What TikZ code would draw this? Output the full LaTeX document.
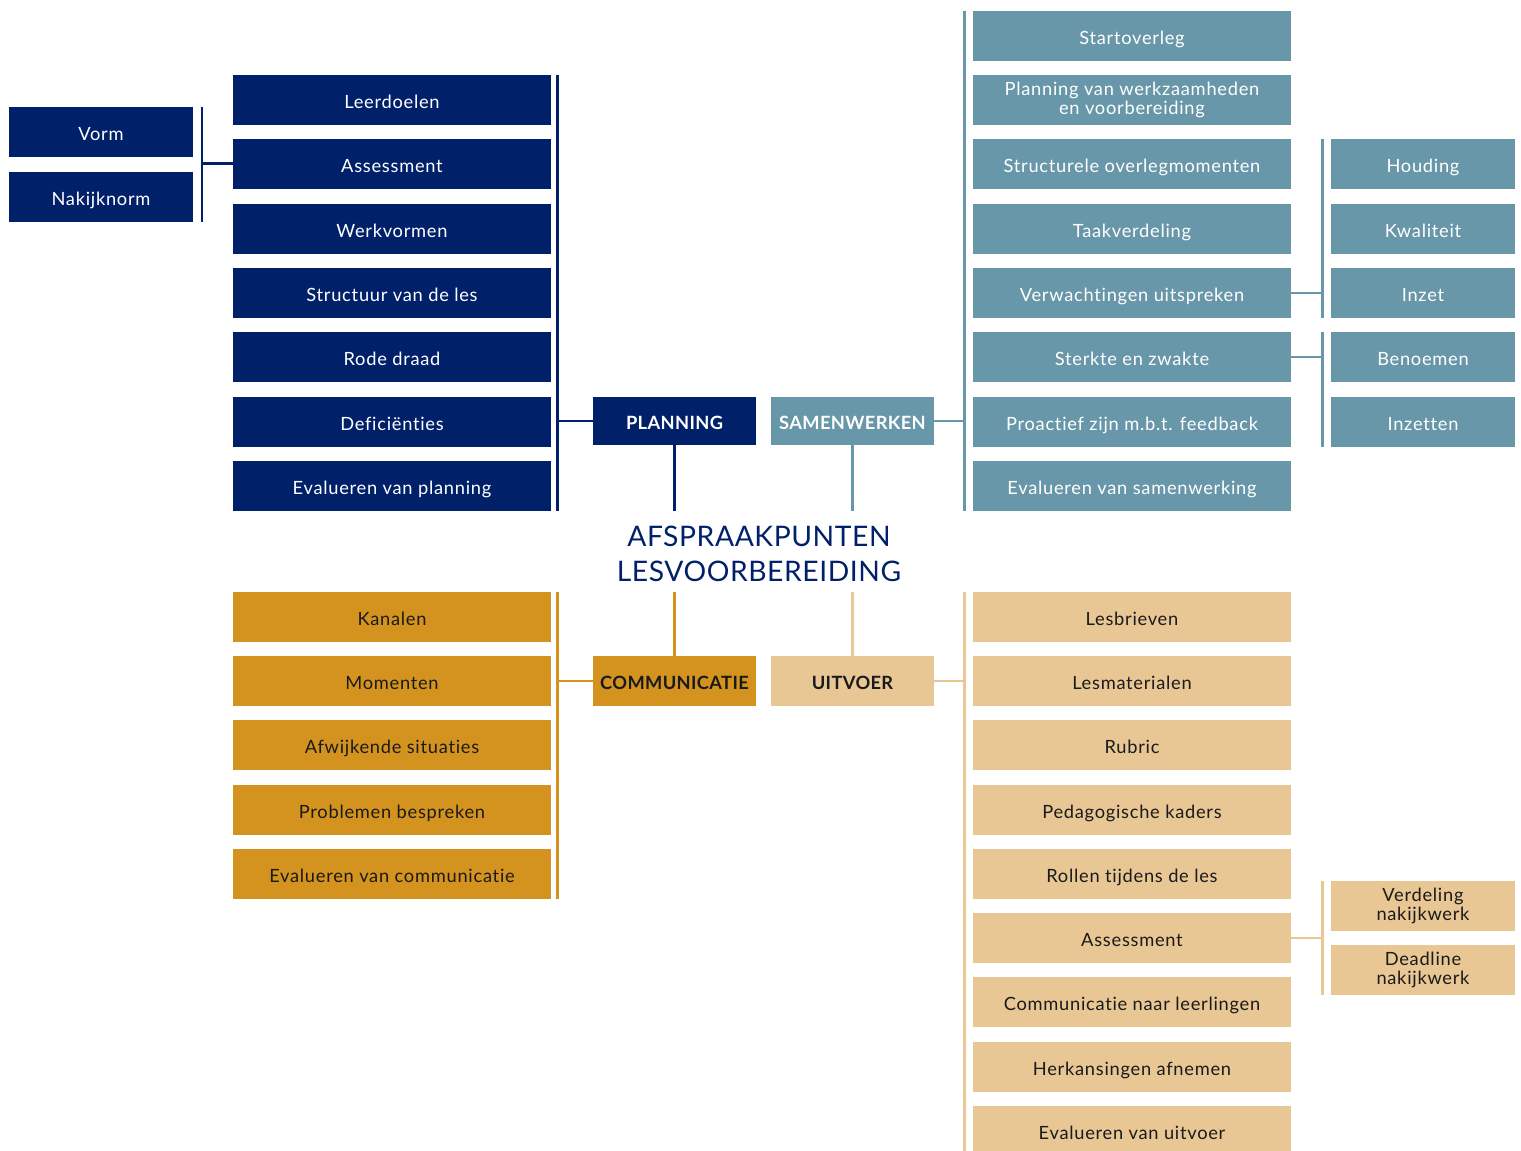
\documentclass[tikz,border=0pt]{standalone}
\usepackage{fontspec}
\setmainfont{Lato}[LetterSpace=4.0,Ligatures=NoCommon]
\usetikzlibrary{positioning}
\definecolor{plancol}{HTML}{002169}
\definecolor{samcol}{HTML}{6797A8}
\definecolor{comcol}{HTML}{D4931E}
\definecolor{uitcol}{HTML}{E8C795}
\definecolor{inkcol}{HTML}{1A1A1A}
\tikzset{
  box/.style={inner sep=0pt,minimum width=6.36cm,minimum height=1cm,align=center,
    text height=0.95em,text depth=0pt,font=\fontsize{10.4}{10.4}\selectfont},
  twoline/.style={text height={},text depth={}},
  subbox/.style={box,minimum width=3.68cm},
  head/.style={box,minimum width=3.26cm,font=\fontsize{10.4}{11}\selectfont\bfseries\addfontfeatures{LetterSpace=2.0}},
  navy/.style={fill=plancol,text=white},
  teal/.style={fill=samcol,text=white},
  gold/.style={fill=comcol,text=inkcol},
  tan/.style={fill=uitcol,text=inkcol},
  link/.style={line width=1.7pt}
}

\begin{document}
\begin{tikzpicture}[x=0.02cm,y=-0.02cm]
    \useasboundingbox (0,0) rectangle (1521,1151);

    % planning
    \node[box,navy] (leer) at (392,100) {Leerdoelen};
    \node[box,navy] (assp) at (392,164) {Assessment};
    \node[box,navy] (werk) at (392,229) {Werkvormen};
    \node[box,navy] (stru) at (392,293) {Structuur van de les};
    \node[box,navy] (rode) at (392,357) {Rode draad};
    \node[box,navy] (defi) at (392,422) {Deficiënties};
    \node[box,navy] (evap) at (392,486) {Evalueren van planning};
    \node[subbox,navy] (vorm) at (101,132) {Vorm};
    \node[subbox,navy] (naki) at (101,197) {Nakijknorm};
    \node[head,navy,minimum height=0.96cm] (plan) at (674.5,421) {PLANNING};

    \coordinate (ptop) at (557,75);
    \coordinate (pbot) at (557,511);
    \coordinate (vtop) at (202,107);
    \coordinate (vbot) at (202,222);
    \draw[link,plancol] (ptop) -- (pbot);
    \draw[link,plancol] (plan.west) -- (plan.west -| ptop);
    \draw[link,plancol] (vtop) -- (vbot);
    \draw[link,plancol] (assp.west) -- (assp.west -| vtop);
    \draw[link,plancol] (plan.south) -- (674.5,511);

    % samenwerken
    \node[box,teal] (start) at (1132,36) {Startoverleg};
    \node[box,teal,twoline] (plwerk) at (1132,100) {Planning van werkzaamheden\\en voorbereiding};
    \node[box,teal] (struc) at (1132,164) {Structurele overlegmomenten};
    \node[box,teal] (taak) at (1132,229) {Taakverdeling};
    \node[box,teal] (verw) at (1132,293) {Verwachtingen uitspreken};
    \node[box,teal] (sterk) at (1132,357) {Sterkte en zwakte};
    \node[box,teal] (proa) at (1132,422) {Proactief zijn m.b.t. feedback};
    \node[box,teal] (evas) at (1132,486) {Evalueren van samenwerking};
    \node[subbox,teal] (houd) at (1423,164) {Houding};
    \node[subbox,teal] (kwal) at (1423,229) {Kwaliteit};
    \node[subbox,teal] (inzet) at (1423,293) {Inzet};
    \node[subbox,teal] (benoe) at (1423,357) {Benoemen};
    \node[subbox,teal] (inzetten) at (1423,422) {Inzetten};
    \node[head,teal,minimum height=0.96cm] (sam) at (852.5,421) {SAMENWERKEN};

    \coordinate (stop) at (964,11);
    \coordinate (sbot) at (964,511);
    \coordinate (htop) at (1322,139);
    \coordinate (hbot) at (1322,318);
    \coordinate (btop) at (1322,332);
    \coordinate (bbot) at (1322,447);
    \draw[link,samcol] (stop) -- (sbot);
    \draw[link,samcol] (sam.east) -- (sam.east -| stop);
    \draw[link,samcol] (htop) -- (hbot);
    \draw[link,samcol] (verw.east) -- (verw.east -| htop);
    \draw[link,samcol] (btop) -- (bbot);
    \draw[link,samcol] (sterk.east) -- (sterk.east -| btop);
    \draw[link,samcol] (sam.south) -- (852.5,511);

    % title
    \node[text=plancol,align=center,font=\fontsize{16.1}{19.9}\selectfont\addfontfeatures{LetterSpace=2.0}] (title) at (759,554) {AFSPRAAKPUNTEN\\LESVOORBEREIDING};

    % communicatie
    \node[box,gold] (kana) at (392,617) {Kanalen};
    \node[box,gold] (mome) at (392,681) {Momenten};
    \node[box,gold] (afwi) at (392,745) {Afwijkende situaties};
    \node[box,gold] (prob) at (392,810) {Problemen bespreken};
    \node[box,gold] (evac) at (392,874) {Evalueren van communicatie};
    \node[head,gold] (com) at (674.5,681) {COMMUNICATIE};

    \coordinate (ctop) at (557,592);
    \coordinate (cbot) at (557,899);
    \draw[link,comcol] (ctop) -- (cbot);
    \draw[link,comcol] (com.west) -- (com.west -| ctop);
    \draw[link,comcol] (674.5,592) -- (com.north);

    % uitvoer
    \node[box,tan] (lesb) at (1132,617) {Lesbrieven};
    \node[box,tan] (lesm) at (1132,681) {Lesmaterialen};
    \node[box,tan] (rubr) at (1132,745) {Rubric};
    \node[box,tan] (peda) at (1132,810) {Pedagogische kaders};
    \node[box,tan] (roll) at (1132,874) {Rollen tijdens de les};
    \node[box,tan] (assu) at (1132,938) {Assessment};
    \node[box,tan] (comm) at (1132,1002) {Communicatie naar leerlingen};
    \node[box,tan] (herk) at (1132,1067) {Herkansingen afnemen};
    \node[box,tan] (evau) at (1132,1131) {Evalueren van uitvoer};
    \node[subbox,tan,twoline] (verd) at (1423,906) {Verdeling\\nakijkwerk};
    \node[subbox,tan,twoline] (dead) at (1423,970) {Deadline\\nakijkwerk};
    \node[head,tan] (uit) at (852.5,681) {UITVOER};

    \coordinate (utop) at (964,592);
    \coordinate (ubot) at (964,1151);
    \coordinate (ntop) at (1322,881);
    \coordinate (nbot) at (1322,995);
    \draw[link,uitcol] (utop) -- (ubot);
    \draw[link,uitcol] (uit.east) -- (uit.east -| utop);
    \draw[link,uitcol] (ntop) -- (nbot);
    \draw[link,uitcol] (assu.east) -- (assu.east -| ntop);
    \draw[link,uitcol] (852.5,592) -- (uit.north);
\end{tikzpicture}
\end{document}
